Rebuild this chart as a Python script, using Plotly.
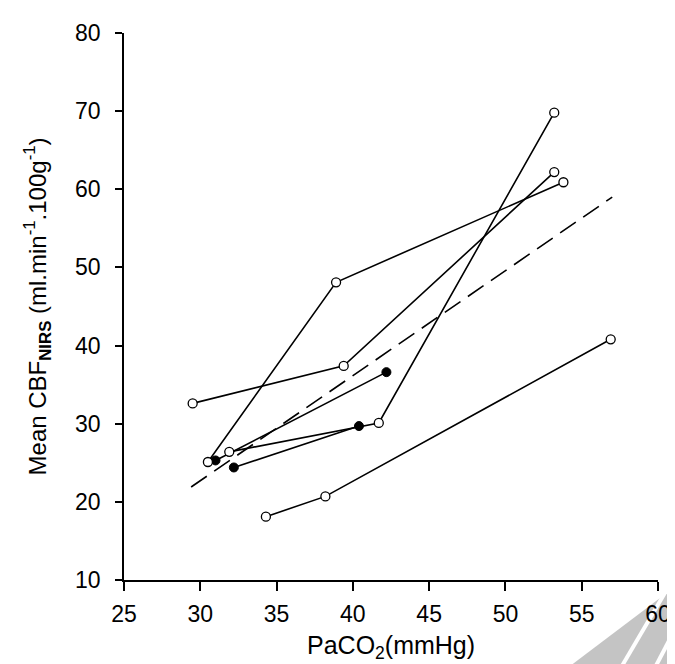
import plotly.graph_objects as go

# Subjects with three measurements (open circles)
s1_x = [29.5, 39.4, 53.2]
s1_y = [32.6, 37.4, 62.2]
s2_x = [30.5, 38.9, 53.8]
s2_y = [25.1, 48.1, 60.9]
s3_x = [31.9, 41.7, 53.2]
s3_y = [26.4, 30.1, 69.8]
s4_x = [34.3, 38.2, 56.9]
s4_y = [18.1, 20.7, 40.8]
# Subjects with two measurements (filled circles)
f1_x = [31.0, 42.2]
f1_y = [25.3, 36.6]
f2_x = [32.2, 40.4]
f2_y = [24.4, 29.7]
# Regression line
reg_x = [29.4, 57.0]
reg_y = [21.9, 59.0]

x_ticks = [25, 30, 35, 40, 45, 50, 55, 60]
y_ticks = [10, 20, 30, 40, 50, 60, 70, 80]

FONT = "Liberation Sans, Arial, sans-serif"

fig = go.Figure()

fig.add_trace(go.Scatter(x=reg_x, y=reg_y, mode="lines",
                         line=dict(color="black", width=1.6, dash="19px,9px"),
                         showlegend=False, hoverinfo="skip"))

for xs, ys in [(f1_x, f1_y), (f2_x, f2_y)]:
    fig.add_trace(go.Scatter(x=xs, y=ys, mode="lines+markers",
                             line=dict(color="black", width=1.6),
                             marker=dict(size=9, color="black",
                                         line=dict(color="black", width=1)),
                             showlegend=False))

for xs, ys in [(s1_x, s1_y), (s2_x, s2_y), (s3_x, s3_y), (s4_x, s4_y)]:
    fig.add_trace(go.Scatter(x=xs, y=ys, mode="lines+markers",
                             line=dict(color="black", width=1.6),
                             marker=dict(size=9, color="white",
                                         line=dict(color="black", width=1.3)),
                             showlegend=False))

fig.update_xaxes(range=[25, 60], tickvals=x_ticks, ticktext=[str(v) for v in x_ticks],
                 showgrid=False, zeroline=False, showline=True, linecolor="black",
                 linewidth=1.5, ticks="outside", ticklen=9, tickwidth=1.5,
                 tickcolor="black", ticklabelstandoff=4,
                 tickfont=dict(family=FONT, size=23, color="black"))
fig.update_yaxes(range=[10, 80], tickvals=y_ticks, ticktext=[str(v) for v in y_ticks],
                 showgrid=False, zeroline=False, showline=True, linecolor="black",
                 linewidth=1.5, ticks="outside", ticklen=7, tickwidth=1.5,
                 tickcolor="black", ticklabelstandoff=10,
                 tickfont=dict(family=FONT, size=23, color="black"))

fig.add_annotation(text="PaCO<sub>2</sub>(mmHg)", xref="paper", yref="paper",
                   x=0.5, y=-0.123, xanchor="center", yanchor="middle",
                   showarrow=False, font=dict(family=FONT, size=25, color="black"))
fig.add_annotation(text="Mean CBF<sub><b>NIRS</b></sub> (ml.min<sup>-1</sup>.100g<sup>-1</sup>)",
                   xref="paper", yref="paper", x=-0.163, y=0.5, textangle=-90,
                   xanchor="center", yanchor="middle", showarrow=False,
                   font=dict(family=FONT, size=24, color="black"))

# gray watermark corner (decorative)
def px(xp, yp):
    return (xp - 116) / 546, (572 - yp) / 552

pts = [px(565, 664), px(675, 582), px(675, 664)]
path = "M {} {} L {} {} L {} {} Z".format(*pts[0], *pts[1], *pts[2])
fig.add_shape(type="path", path=path, xref="paper", yref="paper",
              fillcolor="#c4c4c4", line=dict(width=0), layer="below")
for (a, b) in [((622, 664), (672, 580)), ((657, 664), (675, 630))]:
    p0, p1 = px(*a), px(*b)
    fig.add_shape(type="line", x0=p0[0], y0=p0[1], x1=p1[0], y1=p1[1],
                  xref="paper", yref="paper", line=dict(color="white", width=4),
                  layer="below")

fig.update_layout(width=675, height=664, margin=dict(l=116, r=13, t=20, b=92),
                  plot_bgcolor="white", paper_bgcolor="white",
                  font=dict(family=FONT, color="black"))

fig.write_html("out.html")
